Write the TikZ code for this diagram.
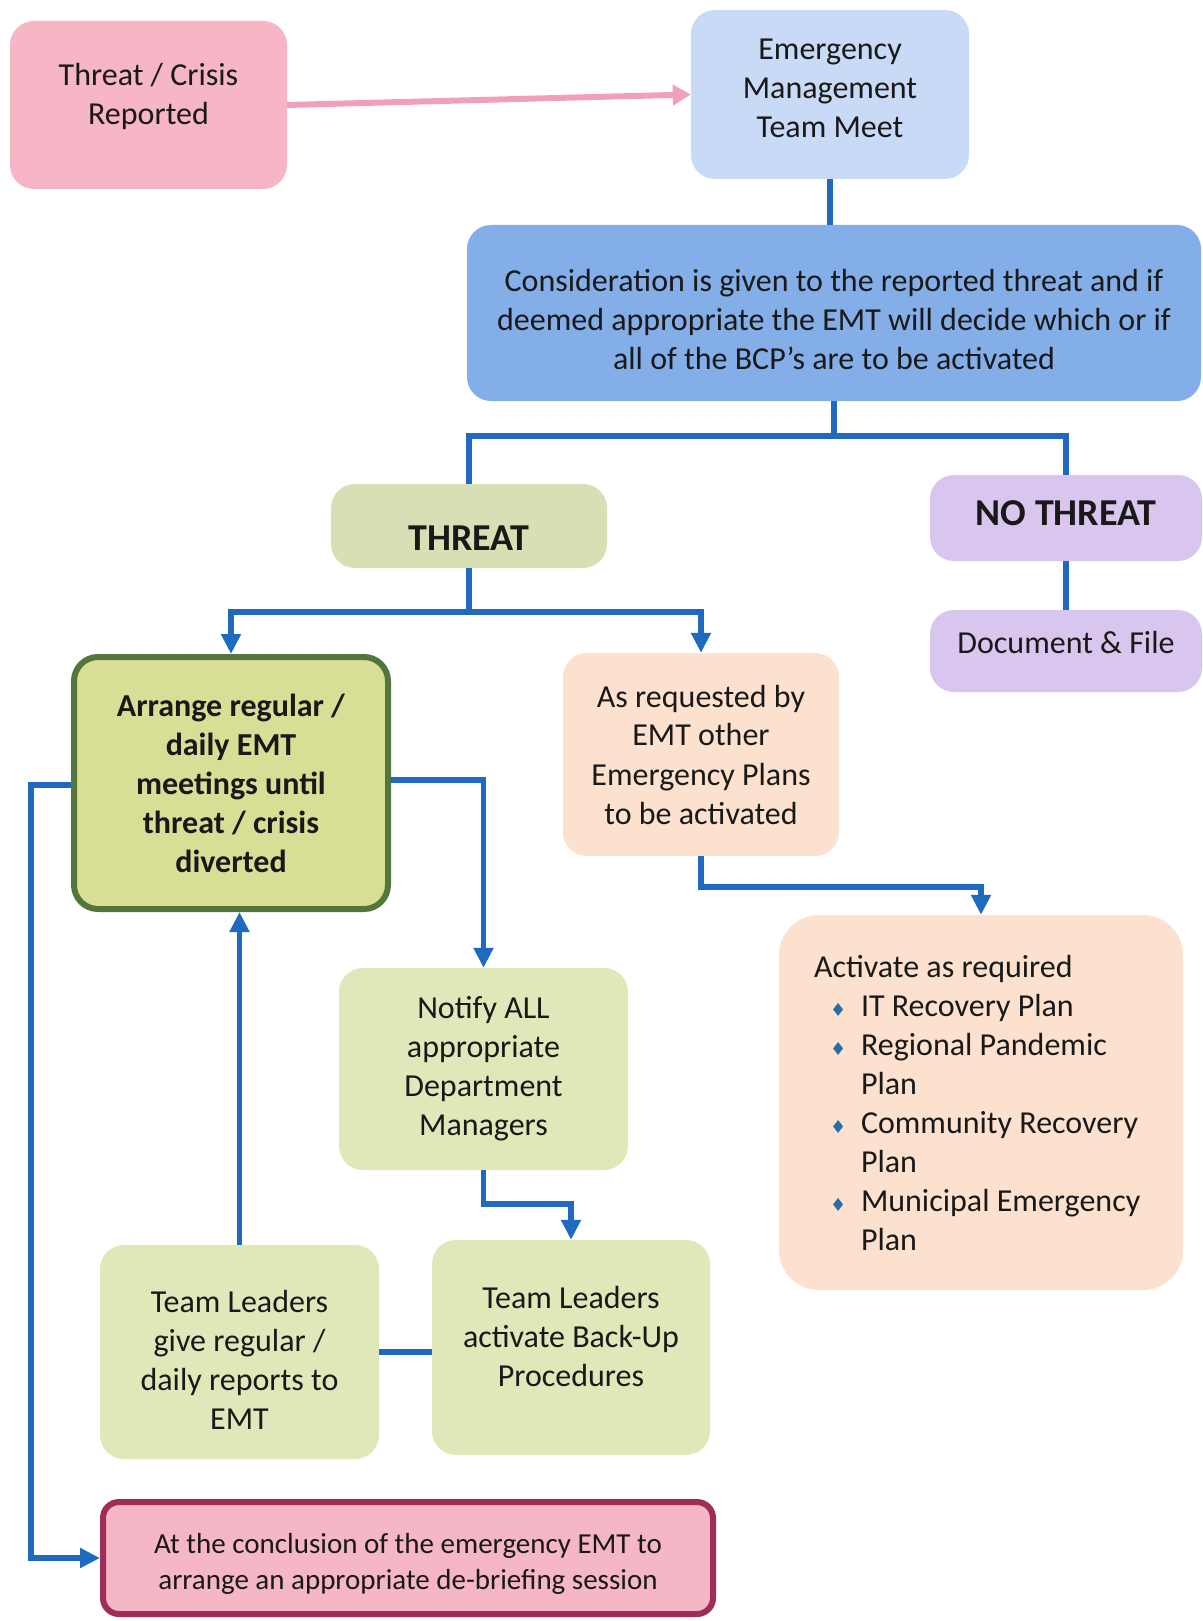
\documentclass[tikz,border=0pt]{standalone}
\usepackage{fontspec}
\setmainfont{Carlito}
\newfontfamily\dejavu{DejaVu Sans}
\usetikzlibrary{arrows.meta,calc}
\definecolor{lnblue}{RGB}{31,105,190}
\definecolor{pinkfill}{RGB}{246,182,198}
\definecolor{pinkline}{RGB}{240,160,190}
\definecolor{ltblue}{RGB}{200,218,245}
\definecolor{midblue}{RGB}{132,174,232}
\definecolor{threatfill}{RGB}{214,224,180}
\definecolor{lavender}{RGB}{216,198,238}
\definecolor{arrfill}{RGB}{216,222,150}
\definecolor{arrborder}{RGB}{84,118,60}
\definecolor{peach}{RGB}{252,226,206}
\definecolor{ltgreen}{RGB}{222,232,184}
\definecolor{concfill}{RGB}{245,182,198}
\definecolor{concborder}{RGB}{160,45,85}
\definecolor{txt}{RGB}{25,25,25}
\definecolor{bulblue}{RGB}{40,110,165}
\newcommand{\bul}{\makebox[47pt][l]{\hspace*{16pt}\textcolor{bulblue}{\dejavu\fontsize{18}{18}\selectfont ♦}}}
% move text down (#1 = twice the shift) / up
\newcommand{\dn}[2]{\raisebox{0pt}[\dimexpr\height+#1\relax][\depth]{\begin{tabular}{@{}c@{}}#2\end{tabular}}}
\newcommand{\up}[2]{\raisebox{0pt}[\height][\dimexpr\depth+#1\relax]{\begin{tabular}{@{}c@{}}#2\end{tabular}}}
\tikzset{
  box/.style={rounded corners=24pt, draw=none, align=center, text=txt,
    font=\fontsize{32}{39}\selectfont, inner sep=0pt},
  conn/.style={draw=lnblue, line width=5.5pt},
  arr/.style={conn, -{Triangle[width=19pt,length=20pt]}},
}
\begin{document}
\begin{tikzpicture}[x=1pt,y=-1pt]
\useasboundingbox (0,0) rectangle (1202,1621);
\fill[white] (0,0) rectangle (1202,1621);

\node[box, fill=pinkfill, minimum width=277pt, minimum height=168pt] (crisis) at (148.5,105)
  {\up{16pt}{Threat / Crisis\\Reported}};
\node[box, fill=ltblue, minimum width=278pt, minimum height=169pt] (emt) at (830,94.5)
  {\up{8pt}{Emergency\\Management\\Team Meet}};
\node[box, fill=midblue, minimum width=734pt, minimum height=176pt] (consid) at (834,313)
  {\dn{20pt}{Consideration is given to the reported threat and if\\deemed appropriate the EMT will decide which or if\\all of the BCP’s are to be activated}};
\node[box, fill=threatfill, minimum width=276pt, minimum height=84pt, font=\fontsize{38}{39}\selectfont\bfseries] (threat) at (469,526)
  {\dn{34pt}{THREAT}};
\node[box, fill=lavender, minimum width=272pt, minimum height=86pt, font=\fontsize{38}{39}\selectfont\bfseries] (nothreat) at (1066,518)
  {\up{0pt}{NO THREAT}};
\node[box, fill=lavender, minimum width=272pt, minimum height=82pt] (docfile) at (1066,651)
  {\up{10pt}{Document \& File}};
\node[box, fill=arrfill, draw=arrborder, line width=6pt, minimum width=314pt, minimum height=252pt, font=\fontsize{32}{39}\selectfont\bfseries] (arrange) at (231,783)
  {Arrange regular /\\daily EMT\\meetings until\\threat / crisis\\diverted};
\node[box, fill=peach, minimum width=276pt, minimum height=203pt] (asreq) at (701,754.5)
  {As requested by\\EMT other\\Emergency Plans\\to be activated};
\node[box, fill=peach, text width=334pt, inner xsep=35pt, minimum height=375pt, align=flush left, rounded corners=40pt] (activate) at (981,1102.5)
  {Activate as required\\
   \bul IT Recovery Plan\\
   \bul Regional Pandemic\\
   \hspace*{47pt}Plan\\
   \bul Community Recovery\\
   \hspace*{47pt}Plan\\
   \bul Municipal Emergency\\
   \hspace*{47pt}Plan};
\node[box, fill=ltgreen, minimum width=289pt, minimum height=202pt] (notify) at (483.5,1069)
  {Notify ALL\\appropriate\\Department\\Managers};
\node[box, fill=ltgreen, minimum width=279pt, minimum height=214pt] (tlgive) at (239.5,1352)
  {\dn{22pt}{Team Leaders\\give regular /\\daily reports to\\EMT}};
\node[box, fill=ltgreen, minimum width=278pt, minimum height=215pt] (tlact) at (571,1347.5)
  {\up{16pt}{Team Leaders\\activate Back-Up\\Procedures}};
\node[box, fill=concfill, draw=concborder, line width=6pt, minimum width=610pt, minimum height=112pt, rounded corners=16pt, font=\fontsize{29}{36}\selectfont] (conc) at (408,1558)
  {\dn{12pt}{At the conclusion of the emergency EMT to\\arrange an appropriate de-briefing session}};

% connectors
\draw[draw=pinkline, line width=6pt, -{Triangle[width=20pt,length=18pt]}] (crisis.east) -- (emt.west);
\draw[conn] (emt.south) -- (emt.south |- consid.north);
\coordinate (j1) at ($(consid.south)+(0,35)$);
\draw[conn] (consid.south) -- (j1);
\draw[conn] (threat.north) |- (j1) -| (nothreat.north);
\draw[conn] (nothreat.south) -- (nothreat.south |- docfile.north);
\coordinate (j2) at ($(threat.south)+(0,44)$);
\draw[conn] (threat.south) -- (j2);
\draw[arr] (j2) -| (arrange.north);
\draw[arr] (j2) -| (asreq.north);
\draw[arr] ([yshift=3pt]arrange.east) -| (notify.north);
\draw[arr] (asreq.south) -- ++(0,31) -| (activate.north);
\draw[arr] (notify.south) -- ++(0,34) -| (tlact.north);
\draw[arr] (tlgive.north) -- (tlgive.north |- arrange.south);
\draw[conn] (tlgive.east) -- (tlgive.east -| tlact.west);
\draw[arr] ([yshift=-2pt]arrange.west) -| ($(conc.west)+(-69,0)$) -- (conc.west);
\end{tikzpicture}
\end{document}
